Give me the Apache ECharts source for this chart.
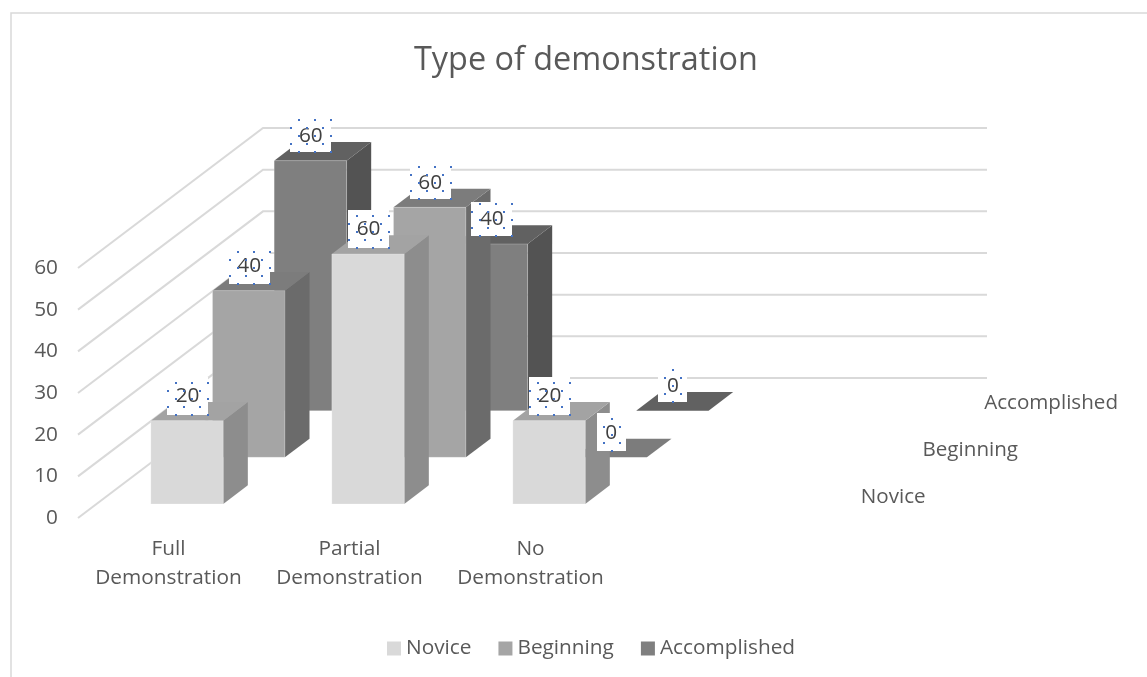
<!DOCTYPE html>
<html>
<head>
<meta charset="utf-8">
<style>html,body{margin:0;padding:0;background:#fff}#c{width:1147px;height:677px}</style>
<script src="https://cdn.jsdelivr.net/npm/echarts@6/dist/echarts.min.js"></script>
</head>
<body>
<div id="c"></div>
<script>
var categories = ['Full\nDemonstration', 'Partial\nDemonstration', 'No\nDemonstration', ''];
var seriesNames = ['Novice', 'Beginning', 'Accomplished'];
var novice = [20, 60, 20];
var beginning = [40, 60, 0];
var accomplished = [60, 40, 0];
var valueTicks = [0, 10, 20, 30, 40, 50, 60];

// styling and projection
var FONT = '"Open Sans", sans-serif';
var TEXT = '#595959';
var faces = [
  { front: '#d9d9d9', side: '#8d8d8d', top: '#a3a3a3' },
  { front: '#a5a5a5', side: '#6b6b6b', top: '#7c7c7c' },
  { front: '#7f7f7f', side: '#535353', top: '#616161' }
];
var DEPTH_X = 185, DEPTH_Y = -140;      // screen offset of the whole floor depth
var BAR_W = 0.4, SLOT = 1 / 3, BAR_D = 0.133;
var labelBoxH = [[38, 38, 38], [37, 33, 38], [33, 34, 33]];

function proj(p, d) { return [p[0] + d * DEPTH_X, p[1] + d * DEPTH_Y]; }

function barFrame(api, cat, val, s) {
  var band = api.size([1, 0])[0];
  var w = band * BAR_W;
  var c = api.coord([cat, val]);
  var b = api.coord([cat, 0]);
  var d0 = (s + 0.5) * SLOT - BAR_D / 2;
  return { tl: proj([c[0] - w / 2, c[1]], d0), bl: proj([b[0] - w / 2, b[1]], d0), w: w, d0: d0 };
}

function barItem(s) {
  return function (params, api) {
    var f = barFrame(api, api.value(0), api.value(1), s);
    var dx = BAR_D * DEPTH_X, dy = BAR_D * DEPTH_Y, c = faces[s];
    var tl = f.tl, bl = f.bl, w = f.w;
    var kids = [
      { type: 'polygon', shape: { points: [[tl[0] + w, tl[1]], [tl[0] + w + dx, tl[1] + dy], [bl[0] + w + dx, bl[1] + dy], [bl[0] + w, bl[1]]] },
        style: { fill: c.side } },
      { type: 'polygon', shape: { points: [tl, [tl[0] + dx, tl[1] + dy], [tl[0] + w + dx, tl[1] + dy], [tl[0] + w, tl[1]]] },
        style: { fill: c.top } }
    ];
    if (api.value(1) > 0) {
      kids.push({ type: 'polygon', shape: { points: [tl, [tl[0] + w, tl[1]], [bl[0] + w, bl[1]], bl] },
        style: { fill: c.front, stroke: 'rgba(255,255,255,0.22)', lineWidth: 1 } });
    }
    return { type: 'group', children: kids };
  };
}

function labelItem(params, api) {
  var cat = api.value(0), val = api.value(1), s = api.value(2);
  var f = barFrame(api, cat, val, s);
  var cx = f.tl[0] + f.w / 2 + 0.5, cy = f.tl[1] - 25;
  var txt = String(val);
  var W = txt.length > 1 ? 41 : 29, H = labelBoxH[s][cat];
  var L = Math.round(cx - W / 2), T = Math.round(cy - H / 2), B = T + H;
  var kids = [
    { type: 'rect', shape: { x: L, y: T, width: W, height: H }, style: { fill: '#fff' } },
    { type: 'text', style: { text: txt, x: cx, y: cy + 0.5, align: 'center', verticalAlign: 'middle', font: '20.8px ' + FONT, fill: '#404040' } }
  ];
  for (var r = 0; r < 5; r++) {
    var start = W > 30 ? (r % 2 ? 1 : 9) : (r % 2 ? 7 : 15);
    for (var x = start; x <= W; x += 16) {
      kids.push({ type: 'rect', shape: { x: L + x - 1, y: B - 8 * (4 - r) - 1, width: 2, height: 2 }, style: { fill: '#4472c4' } });
    }
  }
  return { type: 'group', children: kids };
}

function wallItem(params, api) {
  var front = api.coord([0, api.value(0)]);
  var band = api.size([1, 0])[0];
  var x0 = front[0] - band / 2;
  var a = [x0, front[1]];
  var b = proj(a, 1);
  var c = [b[0] + band * categories.length, b[1]];
  return { type: 'polyline', shape: { points: [a, b, c] }, style: { fill: 'none', stroke: '#d9d9d9', lineWidth: 2 } };
}

function depthLabelItem(params, api) {
  var last = categories.length - 1;
  var band = api.size([1, 0])[0];
  var p = api.coord([last, 0]);
  var d = (api.value(0) + 0.5) * SLOT;
  var q = proj([p[0] + band / 2, p[1]], d);
  return { type: 'text', style: { text: seriesNames[api.value(0)], x: q[0] + 28, y: q[1] + 2, align: 'left', verticalAlign: 'middle', font: '20.6px ' + FONT, fill: TEXT } };
}

var allValues = [novice, beginning, accomplished];
var barSeries = allValues.map(function (vals, s) {
  return {
    name: seriesNames[s], type: 'custom', coordinateSystem: 'cartesian2d', z: 5 - s,
    itemStyle: { color: faces[s].front }, encode: { x: 0, y: 1 },
    renderItem: barItem(s), silent: true,
    data: vals.map(function (v, i) { return [i, v]; })
  };
});
var labelData = [];
for (var s = allValues.length - 1; s >= 0; s--) {
  allValues[s].forEach(function (v, i) { labelData.push([i, v, s]); });
}

var chart = echarts.init(document.getElementById('c'), null, { renderer: 'canvas' });
chart.setOption({
  animation: false,
  backgroundColor: '#fff',
  title: { text: 'Type of demonstration', left: 409, top: 40, textStyle: { fontFamily: FONT, fontSize: 32.4, fontWeight: 'normal', color: TEXT } },
  legend: {
    data: seriesNames, left: 382, top: 633, icon: 'rect', itemWidth: 14, itemHeight: 14, itemGap: 27,
    textStyle: { fontFamily: FONT, fontSize: 20.8, color: TEXT }
  },
  grid: { left: 78, top: 268, width: 724, height: 250, containLabel: false },
  xAxis: {
    type: 'category', data: categories, boundaryGap: true,
    axisLine: { show: false }, axisTick: { show: false }, splitLine: { show: false },
    axisLabel: { interval: 0, margin: 17, lineHeight: 29, fontFamily: FONT, fontSize: 20.8, color: TEXT }
  },
  yAxis: {
    type: 'value', min: 0, max: 60, interval: 10,
    axisLine: { show: false }, axisTick: { show: false }, splitLine: { show: false },
    axisLabel: { margin: 20, padding: [7, 0, 0, 0], fontFamily: FONT, fontSize: 20.8, color: TEXT }
  },
  graphic: [{ type: 'polyline', silent: true, shape: { points: [[11, 677], [11, 13], [1147, 13]] }, style: { fill: 'none', stroke: '#d9d9d9', lineWidth: 1.5 } }],
  series: [
    { type: 'custom', name: 'walls', coordinateSystem: 'cartesian2d', z: 1, silent: true, renderItem: wallItem, encode: { y: 0 },
      data: valueTicks.map(function (v) { return [v]; }) }
  ].concat(barSeries).concat([
    { type: 'custom', name: 'labels', coordinateSystem: 'cartesian2d', z: 10, silent: true, renderItem: labelItem, encode: { x: 0, y: 1 }, data: labelData },
    { type: 'custom', name: 'depth', coordinateSystem: 'cartesian2d', z: 10, silent: true, renderItem: depthLabelItem,
      data: seriesNames.map(function (n, i) { return [i]; }) }
  ])
});
</script>
</body>
</html>
